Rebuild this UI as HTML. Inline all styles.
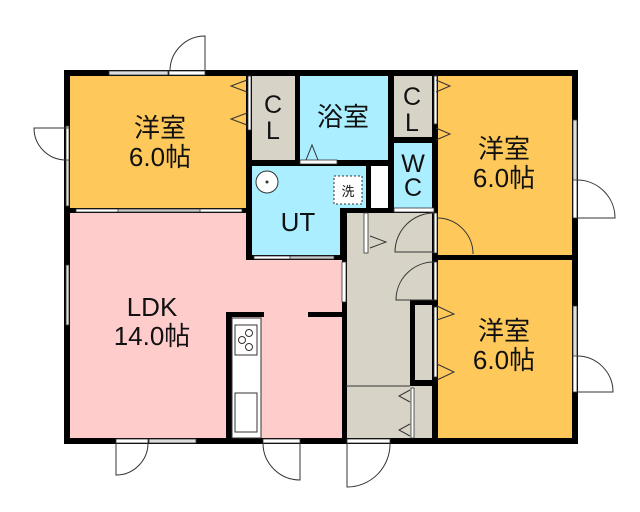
<!DOCTYPE html>
<html><head><meta charset="utf-8"><style>
html,body{margin:0;padding:0;background:#fff;width:640px;height:512px;overflow:hidden}
text{font-family:"Liberation Sans","Noto Sans CJK JP",sans-serif;fill:#111}
</style></head><body>
<svg width="640" height="512" viewBox="0 0 640 512" xmlns="http://www.w3.org/2000/svg">
<rect x="68" y="74" width="182" height="136" fill="#fec85a"/>
<rect x="68" y="211" width="276" height="229" fill="#ffcccc"/>
<rect x="250" y="74" width="48" height="88" fill="#d7d4c7"/>
<rect x="298" y="74" width="92" height="88" fill="#aaeeff"/>
<rect x="250" y="162" width="118" height="48" fill="#aaeeff"/>
<rect x="250" y="162" width="92" height="96" fill="#aaeeff"/>
<rect x="368" y="162" width="24" height="48" fill="#fff"/>
<rect x="390" y="74" width="46" height="68" fill="#d7d4c7"/>
<rect x="390" y="142" width="46" height="68" fill="#aaeeff"/>
<rect x="344" y="210" width="92" height="230" fill="#d7d4c7"/>
<rect x="436" y="74" width="138" height="184" fill="#fec85a"/>
<rect x="436" y="258" width="138" height="182" fill="#fec85a"/>
<g fill="#000">
<rect x="64" y="70" width="514" height="6"/>
<rect x="64" y="438" width="514" height="6"/>
<rect x="64" y="70" width="6" height="374"/>
<rect x="572" y="70" width="6" height="374"/>
<rect x="64" y="208" width="186" height="5"/>
<rect x="246" y="70" width="6" height="190"/>
<rect x="295" y="70" width="5" height="94"/>
<rect x="246" y="160" width="146" height="6"/>
<rect x="246" y="255" width="98" height="5"/>
<rect x="340" y="208" width="6" height="52"/>
<rect x="342" y="208" width="5" height="236"/>
<rect x="342" y="208" width="96" height="5"/>
<rect x="366" y="160" width="5" height="53"/>
<rect x="388" y="70" width="6" height="143"/>
<rect x="388" y="137" width="48" height="6"/>
<rect x="432" y="70" width="6" height="374"/>
<rect x="432" y="255" width="146" height="5"/>
<rect x="410" y="300" width="28" height="5"/>
<rect x="410" y="300" width="5" height="86"/>
<rect x="410" y="380" width="28" height="6"/>
<rect x="226" y="312" width="6" height="130"/>
<rect x="226" y="312" width="38" height="5"/>
<rect x="308" y="312" width="36" height="5"/>
</g>
<g stroke="#333" stroke-width="0.8">
<rect x="109" y="71" width="59" height="4" fill="#ddd"/>
<rect x="169" y="71" width="36" height="4" fill="#fff"/>
<rect x="66" y="126" width="3" height="80" fill="#ddd"/>
<rect x="66" y="128" width="3" height="32" fill="#fff"/>
<rect x="66" y="265" width="3" height="60" fill="#ddd"/>
<rect x="76" y="209" width="166" height="3" fill="#fff"/>
<rect x="118" y="209" width="82" height="3" fill="#ccc"/>
<rect x="254" y="256" width="80" height="3" fill="#fff"/>
<rect x="290" y="256" width="44" height="3" fill="#ccc"/>
<rect x="300" y="160" width="37" height="4" fill="#fff"/>
<rect x="248" y="76" width="3" height="54" fill="#fff"/>
<rect x="434" y="76" width="3" height="48" fill="#fff"/>
<rect x="394" y="208" width="40" height="4" fill="#fff"/>
<rect x="342" y="262" width="4" height="40" fill="#fff"/>
<rect x="364" y="213" width="4" height="40" fill="#fff"/>
<rect x="434" y="213" width="3" height="40" fill="#fff"/>
<rect x="434" y="262" width="3" height="38" fill="#fff"/>
<rect x="434" y="307" width="3" height="70" fill="#fff"/>
<rect x="411" y="388" width="3" height="50" fill="#fff"/>
<rect x="573" y="120" width="4" height="62" fill="#ddd"/>
<rect x="573" y="180" width="4" height="38" fill="#fff"/>
<rect x="573" y="306" width="4" height="60" fill="#ddd"/>
<rect x="573" y="356" width="4" height="36" fill="#fff"/>
<rect x="116" y="439" width="32" height="4" fill="#fff"/>
<rect x="149" y="439" width="47" height="4" fill="#ddd"/>
<rect x="263" y="439" width="37" height="4" fill="#fff"/>
<rect x="347" y="439" width="43" height="4" fill="#fff"/>
</g>
<g fill="none" stroke="#333" stroke-width="1">
<path d="M205 71 V36 A35 35 0 0 0 170 71"/>
<path d="M66 128 H34 A32 32 0 0 0 66 160"/>
<path d="M116 443 V475 A32 32 0 0 0 148 443"/>
<path d="M300 443 V480 A37 37 0 0 1 263 443"/>
<path d="M347 443 V487 A43 43 0 0 0 390 443"/>
<path d="M577 180 A38 38 0 0 1 615 218 H577"/>
<path d="M577 356 A36 36 0 0 1 613 392 H577"/>
<path d="M434 213 V252 H395 A39 39 0 0 1 434 213"/>
<path d="M434 262 A38 38 0 0 0 396 300 H434"/>
<path d="M437 218 A36 36 0 0 1 473 254"/>
<path d="M306 160 L312 145 L318 160"/>
<path d="M247 80 L231 86 L247 92"/>
<path d="M247 113 L231 119 L247 125"/>
<path d="M436 80 L450 86 L436 92"/>
<path d="M436 128 L450 134 L436 140"/>
<path d="M370 236 L386 242 L370 248"/>
<path d="M437 306 L454 314 L437 320"/>
<path d="M437 364 L454 372 L437 380"/>
<path d="M410 390 L399 396 L410 402"/>
<path d="M410 424 L399 430 L410 436"/>
<line x1="346" y1="386" x2="410" y2="386"/>
</g>
<circle cx="267" cy="182" r="11" fill="#fff" stroke="#333"/>
<circle cx="267" cy="182" r="1.5" fill="#333"/>
<rect x="334" y="176" width="28" height="28" fill="#fff" stroke="#333" stroke-dasharray="2 2"/>
<text x="348" y="196" font-size="13" text-anchor="middle">洗</text>
<rect x="232" y="318" width="29" height="120" fill="#fff" stroke="#333"/>
<rect x="235" y="325" width="22" height="30" fill="#fff" stroke="#333"/>
<circle cx="249" cy="333" r="3.5" fill="none" stroke="#333"/>
<circle cx="242" cy="340" r="3.5" fill="none" stroke="#333"/>
<circle cx="249" cy="347" r="3.5" fill="none" stroke="#333"/>
<rect x="235" y="393" width="22" height="39" fill="#fff" stroke="#333"/>
<g font-size="26" text-anchor="middle">
<text x="160" y="137">洋室</text>
<text x="160" y="166">6.0帖</text>
<text x="343" y="126">浴室</text>
<text x="504" y="158">洋室</text>
<text x="504" y="187">6.0帖</text>
<text x="504" y="340">洋室</text>
<text x="504" y="369">6.0帖</text>
<text x="152" y="316">LDK</text>
<text x="152" y="345">14.0帖</text>
<text x="298" y="231">UT</text>
</g>
<g font-size="25" text-anchor="middle">
<text x="273" y="113">C</text><text x="273" y="139">L</text>
<text x="412" y="105">C</text><text x="412" y="131">L</text>
<text x="413" y="172">W</text><text x="413" y="196">C</text>
</g>
</svg>
</body></html>
